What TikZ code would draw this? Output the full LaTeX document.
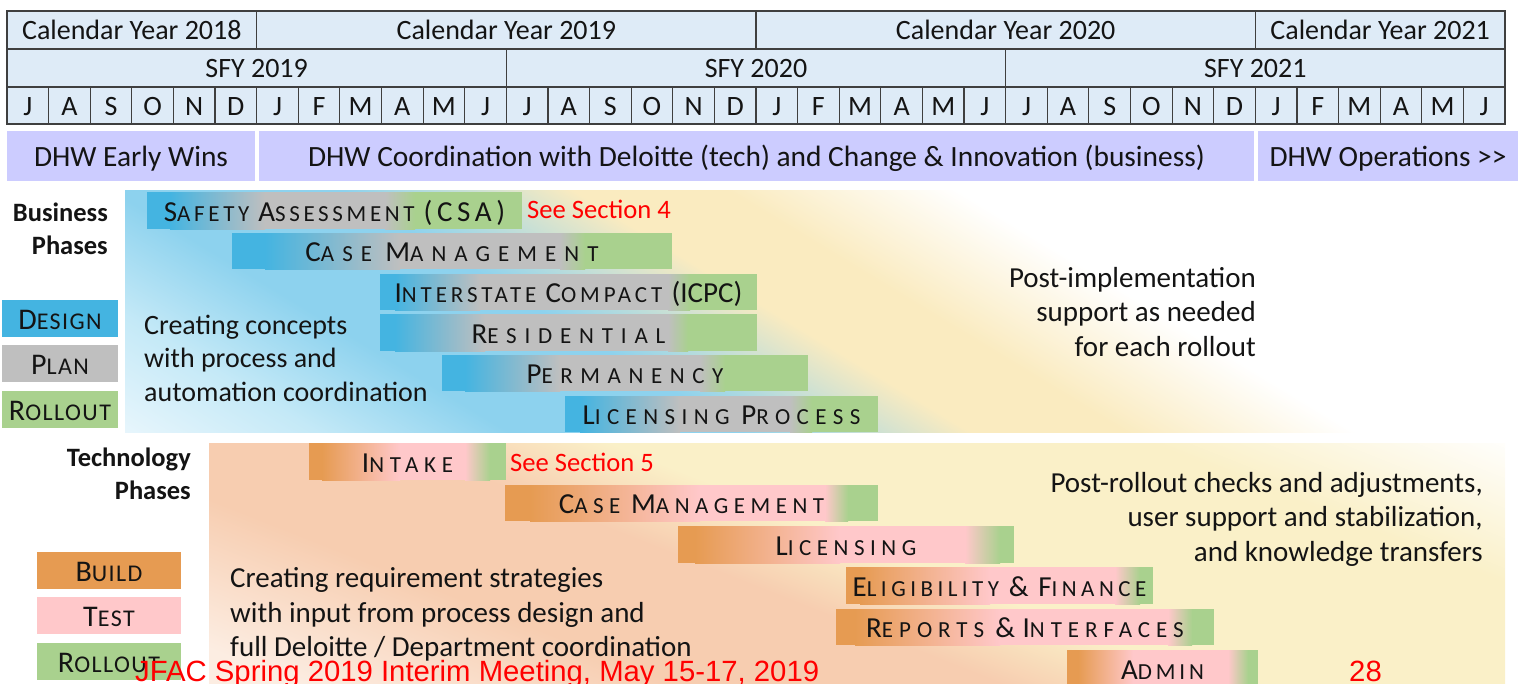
\documentclass[tikz,border=0pt]{standalone}
\usepackage{fontspec}
\setmainfont{Carlito}
\newfontfamily\arialfont{Liberation Sans}
\definecolor{hdrfill}{HTML}{DEEBF7}
\definecolor{hdrline}{HTML}{3F3F3F}
\definecolor{purp}{HTML}{CCCCFF}
\definecolor{dsg}{HTML}{44B4E1}
\definecolor{plg}{HTML}{BFBFBF}
\definecolor{rog}{HTML}{A9D18E}
\definecolor{bld}{HTML}{E69B52}
\definecolor{tst}{HTML}{FFC8CA}
\definecolor{bgblue}{HTML}{8DD2EE}
\definecolor{bgbluel}{HTML}{C4E9F7}
\definecolor{bgbluew}{HTML}{EEF8FD}
\definecolor{bgyel}{HTML}{FAEBC0}
\definecolor{peach}{HTML}{F7CDB0}
\definecolor{peachl}{HTML}{FCEDE2}
\definecolor{tyel}{HTML}{FAF0C8}
\definecolor{txt}{HTML}{141414}
\definecolor{redtx}{HTML}{FF0000}
\pgfdeclarehorizontalshading{bizbg}{100bp}{color(0bp)=(bgbluew); color(40bp)=(bgbluew); color(43bp)=(bgbluel); color(45.5bp)=(bgblue); color(48.5bp)=(bgblue); color(51.5bp)=(bgyel); color(53.5bp)=(bgyel); color(56.5bp)=(white); color(100bp)=(white)}
\pgfdeclarehorizontalshading{techbg}{100bp}{color(0bp)=(peachl); color(42.5bp)=(peachl); color(46bp)=(peach); color(49bp)=(peach); color(51bp)=(tyel); color(56bp)=(tyel); color(59.5bp)=(white); color(100bp)=(white)}
\newcommand\SC[2]{{\fontsize{29}{30}\selectfont#1}{\fontsize{23}{24}\selectfont#2}}
\newcommand\BG[1]{{\fontsize{29}{30}\selectfont#1}}
\newcommand\LSC[2]{{\addfontfeature{LetterSpace=6}{\fontsize{30}{31}\selectfont#1}{\fontsize{24}{25}\selectfont#2}}}
\newcommand\cA{dsg}\newcommand\cB{plg}\newcommand\cC{rog}
\newcommand\gbar[8]{%
  \fill[\cB] (#1,#3) rectangle (#2,#4);
  \fill[\cA] (#1,#3) rectangle (#5,#4);
  \shade[left color=\cA, right color=\cB] (#5,#3) rectangle (#6,#4);
  \shade[left color=\cB, right color=\cC] (#7,#3) rectangle (#8,#4);
  \fill[\cC] (#8,#3) rectangle (#2,#4);}
\begin{document}
\begin{tikzpicture}[x=1pt,y=-1pt,
  cell/.style={draw=hdrline, line width=1.2pt, fill=hdrfill, inner sep=0pt, text=txt,
    font=\fontsize{28}{30}\selectfont, text height=19pt, text depth=0pt},
  pbar/.style={fill=purp, inner sep=0pt, text=txt, font=\fontsize{29.4}{32}\selectfont,
    minimum height=50pt, text height=20pt, text depth=0pt},
  blbl/.style={inner sep=0pt, text=txt, font=\fontsize{23}{24}\selectfont, text height=21pt, text depth=0pt},
  legbox/.style={inner sep=0pt, text=txt, font=\fontsize{24}{25}\selectfont,
    minimum height=37pt, text height=21pt, text depth=0pt},
  note/.style={inner sep=0pt, text=txt, font=\fontsize{29}{34.5}\selectfont},
  boldlbl/.style={inner sep=0pt, text=txt, font=\bfseries\fontsize{26.5}{32.3}\selectfont, align=right},
  redlbl/.style={inner sep=0pt, text=redtx, font=\fontsize{26.6}{28}\selectfont},
  foot/.style={inner sep=0pt, text=redtx, font=\arialfont\fontsize{29.3}{30}\selectfont}]
\useasboundingbox (0,0) rectangle (1518,683);

% backgrounds
\begin{scope}
\clip (125,190) rectangle (1518,432);
\shade[shading=bizbg, shading angle=58.7] (-340,-687) rectangle (1660,1313);
\end{scope}
\begin{scope}
\clip (209,443) rectangle (1505,683);
\shade[shading=techbg, shading angle=68.4] (-190,-435) rectangle (1810,1565);
\end{scope}

% header
\node[cell, minimum width=249.67pt, minimum height=38pt] (cy18) at (131.83,30) {Calendar Year 2018};
\node[cell, minimum width=499.33pt, minimum height=38pt] (cy19) at (506.33,30) {Calendar Year 2019};
\node[cell, minimum width=499.33pt, minimum height=38pt] (cy20) at (1005.67,30) {Calendar Year 2020};
\node[cell, minimum width=249.67pt, minimum height=38pt] (cy21) at (1380.17,30) {Calendar Year 2021};
\node[cell, minimum width=499.33pt, minimum height=38pt] (sfy19) at (256.67,68) {SFY 2019};
\node[cell, minimum width=499.33pt, minimum height=38pt] (sfy20) at (756,68) {SFY 2020};
\node[cell, minimum width=499.33pt, minimum height=38pt] (sfy21) at (1255.33,68) {SFY 2021};
\foreach \lbl [count=\i from 0] in {J,A,S,O,N,D,J,F,M,A,M,J,J,A,S,O,N,D,J,F,M,A,M,J,J,A,S,O,N,D,J,F,M,A,M,J}
  \node[cell, minimum width=41.611pt, minimum height=37pt] (m\i) at ({7+41.611*(\i+0.5)},105.5) {\lbl};

% purple bars
\node[pbar, minimum width=248pt] (ew) at (131,156) {DHW Early Wins};
\node[pbar, minimum width=995pt] (coord) at (756.5,156) {DHW Coordination with Deloitte (tech) and Change \& Innovation (business)};
\node[pbar, minimum width=260pt] (ops) at (1388,156) {DHW Operations >{}>};

% labels (base anchor = last line)
\node[boldlbl, anchor=base east] (bp) at (108,254) {Business\\Phases};
\node[boldlbl, anchor=base east] (tp) at (191,499) {Technology\\Phases};

% legends
\node[legbox, fill=dsg, minimum width=116pt] (lgd) at (60,318.5) {\LSC{D}{ESIGN}};
\node[legbox, fill=plg, minimum width=116pt] (lgp) at (60,363.5) {\LSC{P}{LAN}};
\node[legbox, fill=rog, minimum width=116pt] (lgr) at (60,409.5) {\LSC{R}{OLLOUT}};
\node[legbox, fill=bld, minimum width=144pt] (lgb) at (109,570.5) {\LSC{B}{UILD}};
\node[legbox, fill=tst, minimum width=144pt] (lgt) at (109,615.5) {\LSC{T}{EST}};
\node[legbox, fill=rog, minimum width=144pt] (lgr2) at (109,661.5) {\LSC{R}{OLLOUT}};

% business bars
\gbar{147}{522}{192}{229}{170}{265}{385}{415}
\gbar{232}{672}{233}{269}{265}{400}{560}{585}
\gbar{380}{757}{274}{310}{395}{480}{668}{690}
\gbar{380}{757}{314}{351}{395}{485}{668}{688}
\gbar{442}{808}{355}{391}{465}{560}{700}{725}
\gbar{565}{878}{396}{432}{580}{680}{790}{812}
\node[blbl] (b1) at (334.5,210.5) {\addfontfeature{LetterSpace=16}\SC{S}{AFETY} \SC{A}{SSESSMENT} \BG{(CSA)}};
\node[blbl] (b2) at (452,251) {\addfontfeature{LetterSpace=35}\SC{C}{ASE} \SC{M}{ANAGEMENT}};
\node[blbl] (b3) at (568.5,292) {\addfontfeature{LetterSpace=17}\SC{I}{NTERSTATE} \SC{C}{OMPACT} {\addfontfeature{LetterSpace=0}\BG{(ICPC)}}};
\node[blbl] (b4) at (568.5,332.5) {\addfontfeature{LetterSpace=34}\SC{R}{ESIDENTIAL}};
\node[blbl] (b5) at (625,373) {\addfontfeature{LetterSpace=33}\SC{P}{ERMANENCY}};
\node[blbl] (b6) at (721.5,414) {\addfontfeature{LetterSpace=28}\SC{L}{ICENSING} \SC{P}{ROCESS}};

% tech bars
\renewcommand\cA{bld}\renewcommand\cB{tst}
\gbar{309}{506}{443}{480}{322}{400}{465}{490}
\gbar{505}{878}{485}{521}{530}{700}{825}{848}
\gbar{678}{1014}{526}{563}{695}{840}{965}{1000}
\gbar{846}{1153}{567}{604}{860}{990}{1115}{1140}
\gbar{836}{1214}{609}{645}{855}{1000}{1168}{1192}
\gbar{1067}{1258}{650}{687}{1078}{1133}{1228}{1248}
\node[blbl] (t1) at (407.5,461.5) {\addfontfeature{LetterSpace=25}\SC{I}{NTAKE}};
\node[blbl] (t2) at (691.5,503) {\addfontfeature{LetterSpace=24}\SC{C}{ASE} \SC{M}{ANAGEMENT}};
\node[blbl] (t3) at (846,544.5) {\addfontfeature{LetterSpace=24}\SC{L}{ICENSING}};
\node[blbl] (t4) at (999.5,585.5) {\addfontfeature{LetterSpace=19.5}\SC{E}{LIGIBILITY} \BG{\&} \SC{F}{INANCE}};
\node[blbl] (t5) at (1025,627) {\addfontfeature{LetterSpace=26}\SC{R}{EPORTS} \BG{\&}\SC{I}{NTERFACES}};
\node[blbl] (t6) at (1162.5,668.5) {\addfontfeature{LetterSpace=17}\SC{A}{DMIN}};

% notes
\node[redlbl, anchor=base west] (s4) at (527,218) {See Section 4};
\node[redlbl, anchor=base west] (s5) at (510,471) {See Section 5};
\node[note, font=\fontsize{28}{33.5}\selectfont, align=left, anchor=base west] (cc) at (144,401) {Creating concepts\\with process and\\automation coordination};
\node[note, align=right, anchor=base east] (pi) at (1256,356) {Post-implementation\\support as needed\\for each rollout};
\node[note, align=left, anchor=base west] (cr) at (230,656.5) {Creating requirement strategies\\with input from process design and\\full Deloitte / Department coordination};
\node[note, align=right, anchor=base east] (pr) at (1483,561) {Post-rollout checks and adjustments,\\user support and stabilization,\\and knowledge transfers};

% footer
\node[foot, anchor=base west] (ft) at (135,681) {JFAC Spring 2019 Interim Meeting, May 15-17, 2019};
\node[foot, anchor=base west] (pg) at (1349,681) {28};
\end{tikzpicture}
\end{document}
